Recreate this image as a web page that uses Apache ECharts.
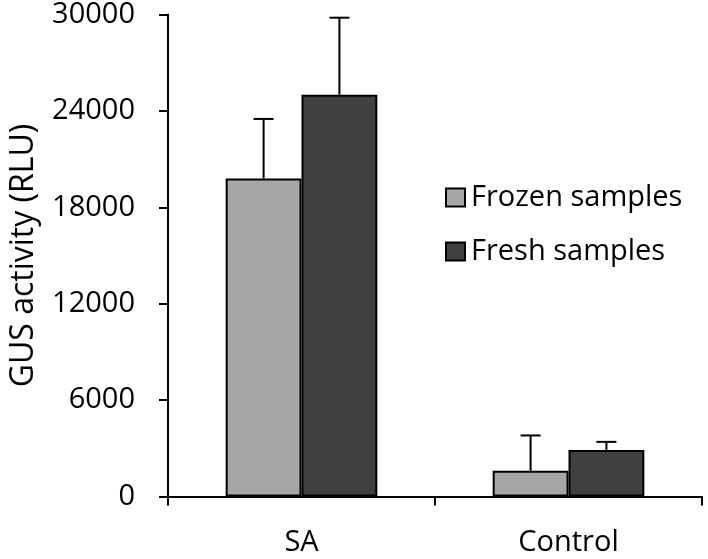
<!DOCTYPE html>
<html>
<head>
<meta charset="utf-8">
<script src="https://cdn.jsdelivr.net/npm/echarts@6/dist/echarts.min.js"></script>
<style>html,body{margin:0;padding:0;background:#fff}#c{width:708px;height:559px}</style>
</head>
<body>
<div id="c"></div>
<script>
var categories = ['SA', 'Control'];
var seriesNames = ['Frozen samples', 'Fresh samples'];
var frozenValues = [19800, 1600];
var freshValues = [25000, 2900];
var frozenErrors = [3700, 2200];
var freshErrors = [4800, 500];
var yTicks = [0, 6000, 12000, 18000, 24000, 30000];

var FONT = 'Open Sans';
var BAR_FRAC = 0.284;
var colors = ['#a6a6a6', '#404040'];

function errSeries(values, errors, side) {
  return {
    type: 'custom',
    z: 1,
    silent: true,
    data: categories.map(function (c, i) { return [i, values[i], values[i] + errors[i]]; }),
    renderItem: function (params, api) {
      var band = api.size([1, 0])[0];
      var off = side * band * BAR_FRAC / 2;
      var p0 = api.coord([api.value(0), api.value(1)]);
      var p1 = api.coord([api.value(0), api.value(2)]);
      var x = p0[0] + off;
      var cap = 10;
      var st = { stroke: '#000', lineWidth: 2 };
      return {
        type: 'group',
        children: [
          { type: 'line', shape: { x1: x, y1: p0[1], x2: x, y2: p1[1] }, style: st },
          { type: 'line', shape: { x1: x - cap, y1: p1[1], x2: x + cap, y2: p1[1] }, style: st }
        ]
      };
    }
  };
}

var chart = echarts.init(document.getElementById('c'), null, { renderer: 'canvas' });
chart.setOption({
  animation: false,
  textStyle: { fontFamily: FONT, color: '#000' },
  grid: { left: 166, right: 6, top: 12, bottom: 62.5, containLabel: false },
  legend: {
    orient: 'vertical',
    left: 445,
    top: 183,
    padding: 0,
    itemWidth: 19,
    itemHeight: 18,
    itemGap: 25,
    icon: 'rect',
    textStyle: { fontFamily: FONT, fontSize: 29, color: '#000', padding: [0, 0, 0, 1] },
    data: [
      { name: seriesNames[0], itemStyle: { color: colors[0], borderColor: '#000', borderWidth: 2 } },
      { name: seriesNames[1], itemStyle: { color: colors[1], borderColor: '#000', borderWidth: 2 } }
    ]
  },
  xAxis: {
    type: 'category',
    data: categories,
    boundaryGap: true,
    axisLine: { lineStyle: { color: '#000', width: 2 } },
    axisTick: { show: true, length: 9, lineStyle: { color: '#000', width: 2 }, alignWithLabel: false },
    axisLabel: { fontFamily: FONT, fontSize: 29, color: '#000', margin: 32 },
    splitLine: { show: false }
  },
  yAxis: {
    type: 'value',
    min: yTicks[0],
    max: yTicks[yTicks.length - 1],
    interval: yTicks[1] - yTicks[0],
    name: 'GUS activity (RLU)',
    nameLocation: 'middle',
    nameRotate: 90,
    nameGap: 128,
    nameTextStyle: { fontFamily: FONT, fontSize: 32, color: '#000' },
    axisLine: { show: true, lineStyle: { color: '#000', width: 2 } },
    axisTick: { show: true, length: 9, lineStyle: { color: '#000', width: 2 } },
    axisLabel: { fontFamily: FONT, fontSize: 29, color: '#000', margin: 33, formatter: function (v) { return String(v); } },
    splitLine: { show: false }
  },
  series: [
    {
      name: seriesNames[0], type: 'bar', data: frozenValues, barWidth: (BAR_FRAC * 100) + '%', barGap: '0%',
      itemStyle: { color: colors[0], borderColor: '#000', borderWidth: 2 }, z: 2
    },
    {
      name: seriesNames[1], type: 'bar', data: freshValues, barWidth: (BAR_FRAC * 100) + '%', barGap: '0%',
      itemStyle: { color: colors[1], borderColor: '#000', borderWidth: 2 }, z: 2
    },
    errSeries(frozenValues, frozenErrors, -1),
    errSeries(freshValues, freshErrors, 1)
  ]
});
</script>
</body>
</html>
